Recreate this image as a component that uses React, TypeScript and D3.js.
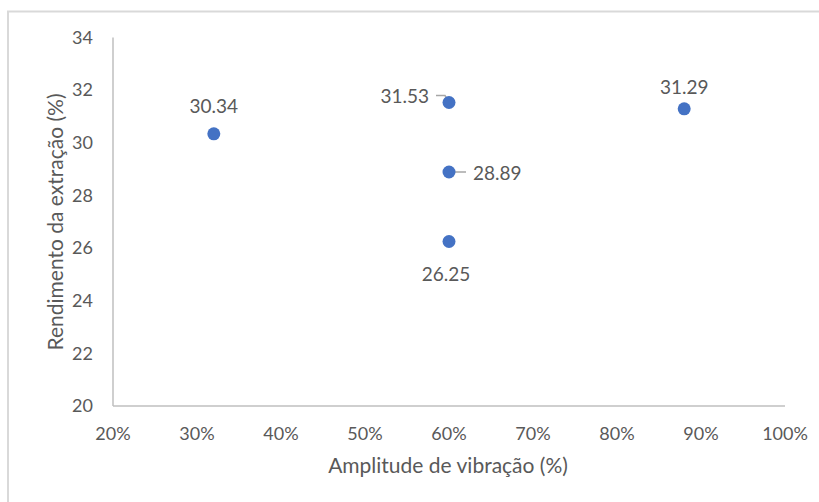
import React from "react";
import * as d3 from "d3";

const amplitudes = [32, 60, 60, 60, 88];
const yields = [30.34, 31.53, 28.89, 26.25, 31.29];
const labelPositions = ["top", "left", "right", "bottom", "top"];
const xTicks = [20, 30, 40, 50, 60, 70, 80, 90, 100];
const yTicks = [20, 22, 24, 26, 28, 30, 32, 34];
const xTitle = "Amplitude de vibração (%)";
const yTitle = "Rendimento da extração (%)";

const W = 819;
const H = 502;
const FONT = "Lato, 'Open Sans', sans-serif";
const TXT = "#595959";
const topOffsets = [21, 0, 0, 0, 14.5];

export default function App() {
  const x = d3.scaleLinear().domain([20, 100]).range([113, 785]);
  const y = d3.scaleLinear().domain([20, 34]).range([406, 37.5]);

  return (
    <svg
      width={W}
      height={H}
      style={{ position: "absolute", left: 0, top: 0, background: "#fff" }}
      fontFamily={FONT}
    >
      <rect x={8} y={11.5} width={W} height={H} fill="none" stroke="#d9d9d9" strokeWidth={2} />
      <line x1={x(20)} x2={x(20)} y1={y(34)} y2={y(20)} stroke="#bfbfbf" strokeWidth={1.5} />
      <line x1={x(20)} x2={x(100)} y1={y(20)} y2={y(20)} stroke="#bfbfbf" strokeWidth={1.5} />
      {yTicks.map((t) => (
        <text key={"y" + t} x={93} y={y(t)} dy="0.35em" textAnchor="end" fontSize={18} fill={TXT}>
          {t}
        </text>
      ))}
      {xTicks.map((t) => (
        <text key={"x" + t} x={x(t)} y={439.5} textAnchor="middle" fontSize={18} fill={TXT}>
          {t + "%"}
        </text>
      ))}
      <text x={448} y={473} textAnchor="middle" fontSize={21} fill={TXT}>
        {xTitle}
      </text>
      <text
        transform={`translate(63,222) rotate(-90)`}
        textAnchor="middle"
        fontSize={21}
        fill={TXT}
      >
        {yTitle}
      </text>
      {amplitudes.map((a, i) => {
        const cx = x(a);
        const cy = y(yields[i]);
        const pos = labelPositions[i];
        const label = yields[i].toFixed(2);
        let el: React.ReactNode = null;
        if (pos === "top") {
          el = (
            <text x={cx} y={cy - topOffsets[i]} textAnchor="middle" fontSize={19} fill={TXT}>
              {label}
            </text>
          );
        } else if (pos === "bottom") {
          el = (
            <text x={cx - 3} y={cy + 40} textAnchor="middle" fontSize={19} fill={TXT}>
              {label}
            </text>
          );
        } else if (pos === "left") {
          el = (
            <g>
              <polyline
                points={`${cx - 13},${cy - 7} ${cx - 4},${cy - 7} ${cx - 1},${cy - 2}`}
                fill="none"
                stroke="#a6a6a6"
                strokeWidth={1.5}
              />
              <text x={cx - 20} y={cy} textAnchor="end" fontSize={19} fill={TXT}>
                {label}
              </text>
            </g>
          );
        } else {
          el = (
            <g>
              <line x1={cx + 6} x2={cx + 17} y1={cy} y2={cy} stroke="#a6a6a6" strokeWidth={1.5} />
              <text x={cx + 24} y={cy} dy="0.4em" textAnchor="start" fontSize={19} fill={TXT}>
                {label}
              </text>
            </g>
          );
        }
        return (
          <g key={i}>
            {el}
            <circle cx={cx} cy={cy} r={6.5} fill="#4472C4" />
          </g>
        );
      })}
    </svg>
  );
}
